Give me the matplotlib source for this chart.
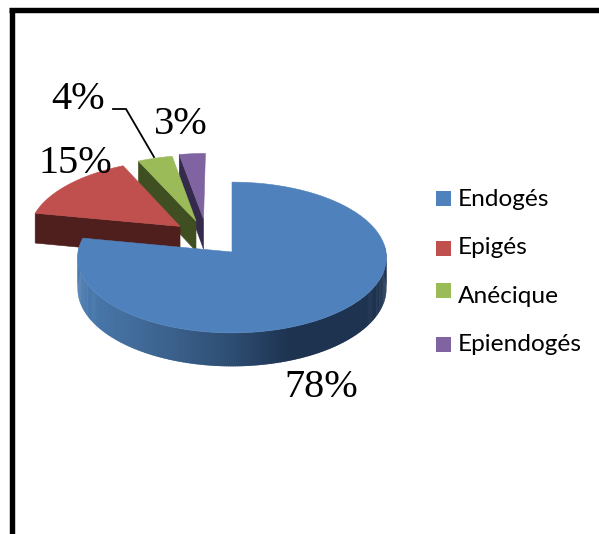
import numpy as np
import matplotlib
matplotlib.use("Agg")
import matplotlib.pyplot as plt
from matplotlib.patches import Polygon, Rectangle
from matplotlib.colors import to_rgb

categories = ["Endogés", "Epigés", "Anécique", "Epiendogés"]
values = [78, 15, 4, 3]
labels = ["78%", "15%", "4%", "3%"]

colors = ["#4f81bd", "#c0504d", "#9bbb59", "#8064a2"]
dark = ["#1d3350", "#4f1f1e", "#404f22", "#342a4c"]
offsets = [(0, 0), (-0.346, 0.35), (-0.241, 0.425), (-0.191, 0.453)]

CX, CY, RX, RY, P, DEPTH = 232, 252, 154, 75, 0.073, 31

W, H = 599, 534
fig = plt.figure(figsize=(W / 100, H / 100), dpi=100)
ax = fig.add_axes([0, 0, 1, 1])
ax.set_xlim(0, W)
ax.set_ylim(H, 0)
ax.axis("off")


def project(u, v, d=0.0):
    u, v = np.asarray(u, float), np.asarray(v, float)
    w = 1 + P * v
    return np.column_stack([CX + RX * u / w, CY - RY * v / w + d / w])


def arc(a0, a1, off=(0, 0), n=80):
    t = np.radians(np.linspace(a0, a1, n))
    return np.sin(t) + off[0], np.cos(t) + off[1]


edges = np.concatenate([[0], np.cumsum(values) / np.sum(values) * 360])


def wedge(i):
    a0, a1 = edges[i], edges[i + 1]
    off = offsets[i]
    u, v = arc(a0, a1, off)
    return np.append(u, off[0]), np.append(v, off[1])


# exploded slices, back to front
for i in [3, 2, 1]:
    a0 = edges[i]
    off = offsets[i]
    ru = np.array([off[0], off[0] + np.sin(np.radians(a0))])
    rv = np.array([off[1], off[1] + np.cos(np.radians(a0))])
    face = np.vstack([project(ru, rv), project(ru[::-1], rv[::-1], DEPTH)])
    ax.add_patch(Polygon(face, closed=True, fc=dark[i], ec=dark[i], lw=0.4, zorder=2 + (3 - i) * 2))
    u, v = wedge(i)
    ax.add_patch(Polygon(project(u, v), closed=True, fc=colors[i], ec=colors[i], lw=0.4, zorder=3 + (3 - i) * 2))

# outer wall of the main slice, with a left-to-right shading
stop_x = [80, 150, 231, 290, 386]
stop_c = ["#4a7aaf", "#3f6794", "#2e4d72", "#1d3350", "#1d3350"]
stop_rgb = np.array([to_rgb(c) for c in stop_c])
ang = np.linspace(85, 275, 240)
for a, b in zip(ang[:-1], ang[1:]):
    u, v = arc(a - 0.25, b + 0.25, n=4)
    top = project(u, v)
    bot = project(u[::-1], v[::-1], DEPTH)
    xm = top[:, 0].mean()
    col = [np.interp(xm, stop_x, stop_rgb[:, k]) for k in range(3)]
    ax.add_patch(Polygon(np.vstack([top, bot]), closed=True, fc=col, ec="none", zorder=10))

u, v = wedge(0)
ax.add_patch(Polygon(project(u, v), closed=True, fc=colors[0], ec=colors[0], lw=0.4, zorder=11))

# percentage labels
serif = "Liberation Serif"
label_pos = [(284, 397), (39, 173), (51, 109), (154, 134)]
for s, (x, y) in zip(labels, label_pos):
    ax.text(x, y, s, family=serif, fontsize=29, color="black", ha="left", va="baseline", zorder=15)

# leader line of the 4% label
ax.plot([113, 126, 154], [109, 109, 157], color="black", lw=1.3, zorder=15, solid_joinstyle="miter")

# legend
swatch_y = [191, 241, 283, 337]
text_y = [206, 254, 303, 351]
for c, name, sy, ty in zip(colors, categories, swatch_y, text_y):
    ax.add_patch(Rectangle((436, sy), 15, 15, fc=c, ec="none", zorder=15))
    ax.text(458, ty, name, family="Lato", fontsize=17.6, color="black", ha="left", va="baseline", zorder=15)

# frame
ax.plot([11.5, 11.5], [9.5, H + 5], color="black", lw=3.9, zorder=20, solid_capstyle="butt")
ax.plot([9, W + 5], [9.5, 9.5], color="black", lw=3.9, zorder=20, solid_capstyle="butt")

fig.savefig("out.png", dpi=100)
